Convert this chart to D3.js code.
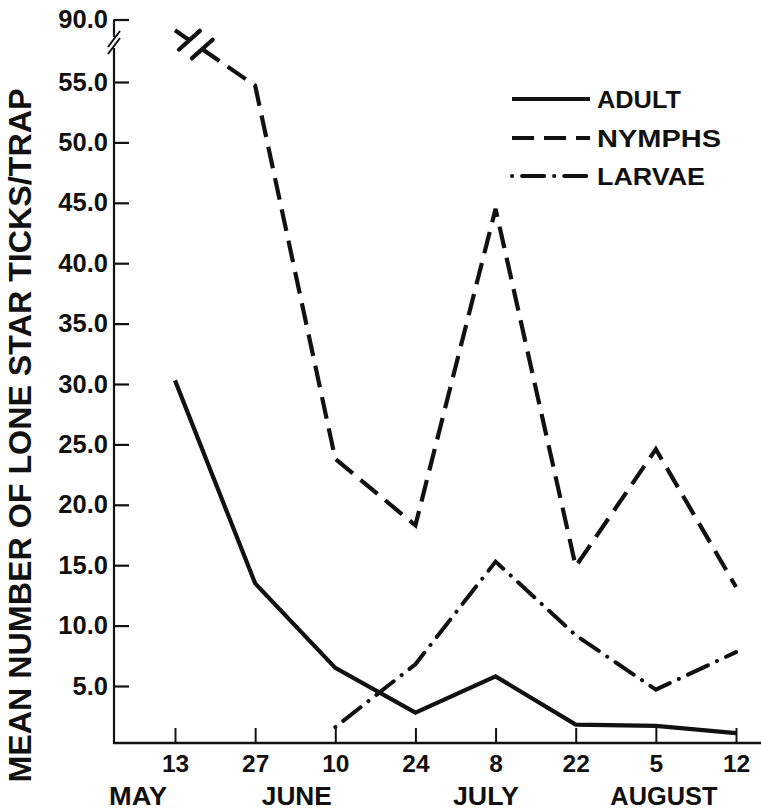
<!DOCTYPE html>
<html>
<head>
<meta charset="utf-8">
<script src="https://cdn.jsdelivr.net/npm/d3@7"></script>
<style>
  html, body { margin: 0; padding: 0; background: #fff; }
  svg { display: block; }
  text { font-family: "Liberation Sans", Arial, Helvetica, sans-serif; font-weight: bold; fill: #111; }
</style>
</head>
<body>
<svg id="chart" width="761" height="811"></svg>
<script>
// ---------------- data ----------------
const categories = ["13", "27", "10", "24", "8", "22", "5", "12"];
const months = ["MAY", "JUNE", "JULY", "AUGUST"];
const monthAnchors = [-0.46, 1.52, 3.88, 6.1]; // position in category-index units
const adult  = [30.3, 13.5, 6.5, 2.8, 5.8, 1.8, 1.7, 1.1];
const nymphs = [84.0, 54.7, 23.8, 18.3, 44.5, 14.9, 24.6, 13.2];
const larvae = [null, null, 1.6, 6.8, 15.3, 9.2, 4.7, 7.8];
const yTicks = [5, 10, 15, 20, 25, 30, 35, 40, 45, 50, 55, 90];
const seriesNames = ["ADULT", "NYMPHS", "LARVAE"];
const yTitle = "MEAN NUMBER OF LONE STAR TICKS/TRAP";

// ---------------- layout ----------------
const svg = d3.select("#chart");
const axisX = 114;
const x = d3.scalePoint().domain(categories).range([175, 736]);
const step = x.step();
const y = d3.scaleLinear().domain([0, 55, 90]).range([746.4, 82, 19.5]);
const baseY = y(0.28);
const ink = "#111";

const styles = {
  ADULT:  { dash: null, cap: "butt", width: 4.2 },
  NYMPHS: { dash: "22,10", cap: "butt", width: 4.2 },
  LARVAE: { dash: "0.1,10,22,10", cap: "round", width: 4 }
};

// ---------------- y axis ----------------
const yAxis = d3.axisLeft(y)
  .tickValues(yTicks)
  .tickSizeInner(-15)
  .tickSizeOuter(0)
  .tickPadding(6)
  .tickFormat(d3.format(".1f"));
const gy = svg.append("g").attr("transform", `translate(${axisX},0)`).call(yAxis);
gy.select(".domain").remove();
gy.selectAll(".tick line").attr("stroke", ink).attr("stroke-width", 2.2);
gy.selectAll(".tick text").attr("font-size", 25.5).attr("fill", ink)
  .attr("font-family", "Liberation Sans, Arial, sans-serif").attr("font-weight", "bold");

// axis line with break
const breakTop = 37, breakBot = 48;
svg.append("line").attr("x1", axisX).attr("x2", axisX).attr("y1", y(90)).attr("y2", breakTop)
  .attr("stroke", ink).attr("stroke-width", 2.2);
svg.append("line").attr("x1", axisX).attr("x2", axisX).attr("y1", breakBot).attr("y2", baseY + 1)
  .attr("stroke", ink).attr("stroke-width", 2.2);
[breakTop + 2, breakBot - 2].forEach(cy => {
  svg.append("line").attr("x1", axisX - 6).attr("y1", cy + 8).attr("x2", axisX + 6).attr("y2", cy - 8)
    .attr("stroke", ink).attr("stroke-width", 2);
});

// ---------------- x axis ----------------
const xAxis = d3.axisBottom(x).tickSizeInner(-15).tickSizeOuter(0).tickPadding(12);
const gx = svg.append("g").attr("transform", `translate(0,${baseY})`).call(xAxis);
gx.select(".domain").remove();
gx.selectAll(".tick line").attr("stroke", ink).attr("stroke-width", 2);
gx.selectAll(".tick text").attr("font-size", 24.5).attr("fill", ink)
  .attr("font-family", "Liberation Sans, Arial, sans-serif").attr("font-weight", "bold");
svg.append("line").attr("x1", axisX - 1).attr("x2", 761).attr("y1", baseY).attr("y2", baseY)
  .attr("stroke", ink).attr("stroke-width", 2.6);

// month labels
const monthWidths = { MAY: 58, JUNE: 70, JULY: 66, AUGUST: 107 };
svg.selectAll("text.month").data(months).join("text")
  .attr("class", "month")
  .attr("x", (d, i) => x(categories[0]) + monthAnchors[i] * step)
  .attr("y", 805)
  .attr("text-anchor", "middle")
  .attr("font-size", 26)
  .attr("textLength", d => monthWidths[d])
  .attr("lengthAdjust", "spacingAndGlyphs")
  .text(d => d);

// y title
svg.append("text")
  .attr("transform", `translate(31,${(88 + 783) / 2}) rotate(-90)`)
  .attr("text-anchor", "middle")
  .attr("font-size", 31)
  .attr("textLength", 694)
  .attr("lengthAdjust", "spacingAndGlyphs")
  .text(yTitle);

// ---------------- lines ----------------
const line = d3.line()
  .defined(d => d != null)
  .x((d, i) => x(categories[i]))
  .y(d => y(d));

function drawSeries(values, name) {
  const s = styles[name];
  const p = svg.append("path")
    .attr("d", line(values))
    .attr("fill", "none")
    .attr("stroke", ink)
    .attr("stroke-width", s.width)
    .attr("stroke-linejoin", "miter")
    .attr("stroke-linecap", s.cap);
  if (s.dash) p.attr("stroke-dasharray", s.dash);
}
drawSeries(adult, "ADULT");
drawSeries(nymphs, "NYMPHS");
drawSeries(larvae, "LARVAE");

// break marks on the nymph line between first two points
const P0 = [x(categories[0]), y(nymphs[0])];
const P1 = [x(categories[1]), y(nymphs[1])];
const at = t => [P0[0] + (P1[0] - P0[0]) * t, P0[1] + (P1[1] - P0[1]) * t];
const t1 = 0.18, t2 = 0.34;
svg.append("line")
  .attr("x1", at(t1)[0]).attr("y1", at(t1)[1]).attr("x2", at(t2)[0]).attr("y2", at(t2)[1])
  .attr("stroke", "#fff").attr("stroke-width", 9);
[t1, t2].forEach(t => {
  const c = at(t);
  const a = -42 * Math.PI / 180, L = 14;
  svg.append("line")
    .attr("x1", c[0] - Math.cos(a) * L).attr("y1", c[1] - Math.sin(a) * L)
    .attr("x2", c[0] + Math.cos(a) * L).attr("y2", c[1] + Math.sin(a) * L)
    .attr("stroke", ink).attr("stroke-width", 4.2).attr("stroke-linecap", "round");
});

// ---------------- legend ----------------
const legendY = [99, 138, 176];
const legendWidths = { ADULT: 84, NYMPHS: 124, LARVAE: 108 };
const lg = svg.append("g");
seriesNames.forEach((name, i) => {
  const s = styles[name];
  const l = lg.append("line")
    .attr("x1", 512).attr("x2", 590).attr("y1", legendY[i]).attr("y2", legendY[i])
    .attr("stroke", ink).attr("stroke-width", s.width).attr("stroke-linecap", s.cap);
  if (s.dash) l.attr("stroke-dasharray", s.dash);
  lg.append("text")
    .attr("x", 597).attr("y", legendY[i] + 9)
    .attr("font-size", 24)
    .attr("textLength", legendWidths[name])
    .attr("lengthAdjust", "spacingAndGlyphs")
    .text(name);
});
</script>
</body>
</html>
